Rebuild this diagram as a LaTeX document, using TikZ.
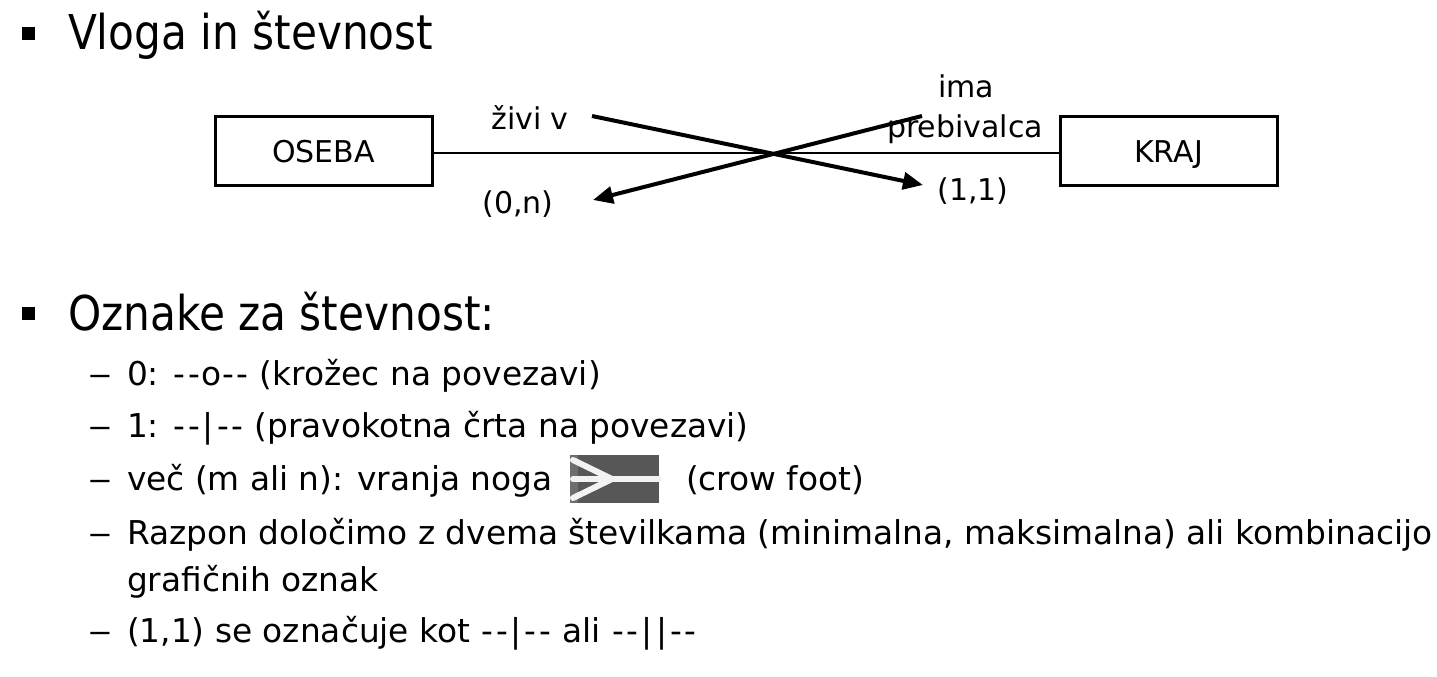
\documentclass[tikz,border=0pt]{standalone}
\usepackage{fontspec}
\setmainfont{DejaVu Sans}
\newfontfamily\headfont[FakeStretch=0.88]{DejaVu Sans}
\usetikzlibrary{arrows.meta}
\definecolor{icongray}{HTML}{575757}
\definecolor{iconedge}{HTML}{6E6E6E}
\definecolor{iconline}{HTML}{F2F2F2}
% wider hyphen and bar for the line notations
\newcommand\nhy{\makebox[0.431em]{-}}
\newcommand\nbar{\makebox[0.45em]{|}}
\begin{document}
\begin{tikzpicture}[x=1pt,y=-1pt,
  txt/.style={inner sep=0pt, outer sep=0pt, anchor=base west},
  head/.style={txt, font=\headfont\fontsize{48}{58}\selectfont},
  item/.style={txt, font=\fontsize{32.8}{40}\selectfont},
  dashmark/.style={txt, font=\fontsize{32.8}{40}\selectfont},
  entity/.style={draw, line width=3pt, minimum width=217pt, minimum height=69pt,
    inner sep=0pt, text height=22pt, text depth=0pt, font=\fontsize{30}{36}\selectfont},
  lbl/.style={inner sep=0pt, anchor=base, font=\fontsize{30}{36}\selectfont},
  bulletsq/.style={fill=black, minimum size=13pt, inner sep=0pt},
  rolearrow/.style={line width=4pt, -{Triangle[length=20pt,width=17pt]}},
  prong/.style={draw=iconline, line width=6pt, line cap=round},
]
\useasboundingbox (0,0) rectangle (1437,677);

% section 1: role and cardinality
\node[bulletsq] (b1) at (28,33.5) {};
\node[head] (t1) at (68,50) {Vloga in števnost};

\node[entity] (oseba) at (323.5,151) {OSEBA};
\node[entity] (kraj) at (1168.5,151) {KRAJ};
\coordinate (link) at (0,153);
\draw[line width=2.3pt] (oseba.east |- link) -- (kraj.west |- link);

\node[lbl] (zivi) at (530,129) {živi v};
\node[lbl] (zn) at (518,213) {(0,n)};
\node[lbl] (ima) at (966,97) {ima};
\node[lbl] (preb) at (965,137) {prebivalca};
\node[lbl] (ena) at (973,200) {(1,1)};

\coordinate (r1s) at (592,116);
\coordinate (r1e) at (923,185);
\coordinate (r2s) at (922,116);
\coordinate (r2e) at (593,200);
\draw[rolearrow] (r1s) -- (r1e);
\draw[rolearrow] (r2s) -- (r2e);

% section 2: cardinality notation
\node[bulletsq] (b2) at (28,313) {};
\node[head] (t2) at (68,330) {Oznake za števnost:};

\node[dashmark] (d1) at (88,385) {\scalebox{1.45}[1]{–}};
\node[item] (i1) at (127,385) {0: \nhy\nhy o\nhy\nhy{} (krožec na povezavi)};
\node[dashmark] (d2) at (88,437) {\scalebox{1.45}[1]{–}};
\node[item] (i2) at (127,437) {1: \nhy\nhy\nbar\nhy\nhy{} (pravokotna črta na povezavi)};
\node[dashmark] (d3) at (88,490) {\scalebox{1.45}[1]{–}};
\node[item] (i3) at (127,490) {več (m ali n): vranja noga};
\node[item] (i3b) at (686,490) {(crow foot)};
\node[dashmark] (d4) at (88,544) {\scalebox{1.45}[1]{–}};
\node[item] (i4) at (127,544) {Razpon določimo z dvema številkama (minimalna, maksimalna) ali kombinacijo};
\node[item] (i4b) at (127,591) {grafičnih oznak};
\node[dashmark] (d5) at (88,642) {\scalebox{1.45}[1]{–}};
\node[item] (i5) at (127,642) {(1,1) se označuje kot \nhy\nhy\nbar\nhy\nhy{} ali \nhy\nhy\nbar\nbar\nhy\nhy};

% crow foot icon
\fill[icongray] (570,455) rectangle (659,503);
\fill[iconedge] (570,455) rectangle (578,503);
\draw[prong] (573,479) -- (659,479);
\draw[prong] (573,460) -- (612,479) -- (573,498);
\end{tikzpicture}
\end{document}
